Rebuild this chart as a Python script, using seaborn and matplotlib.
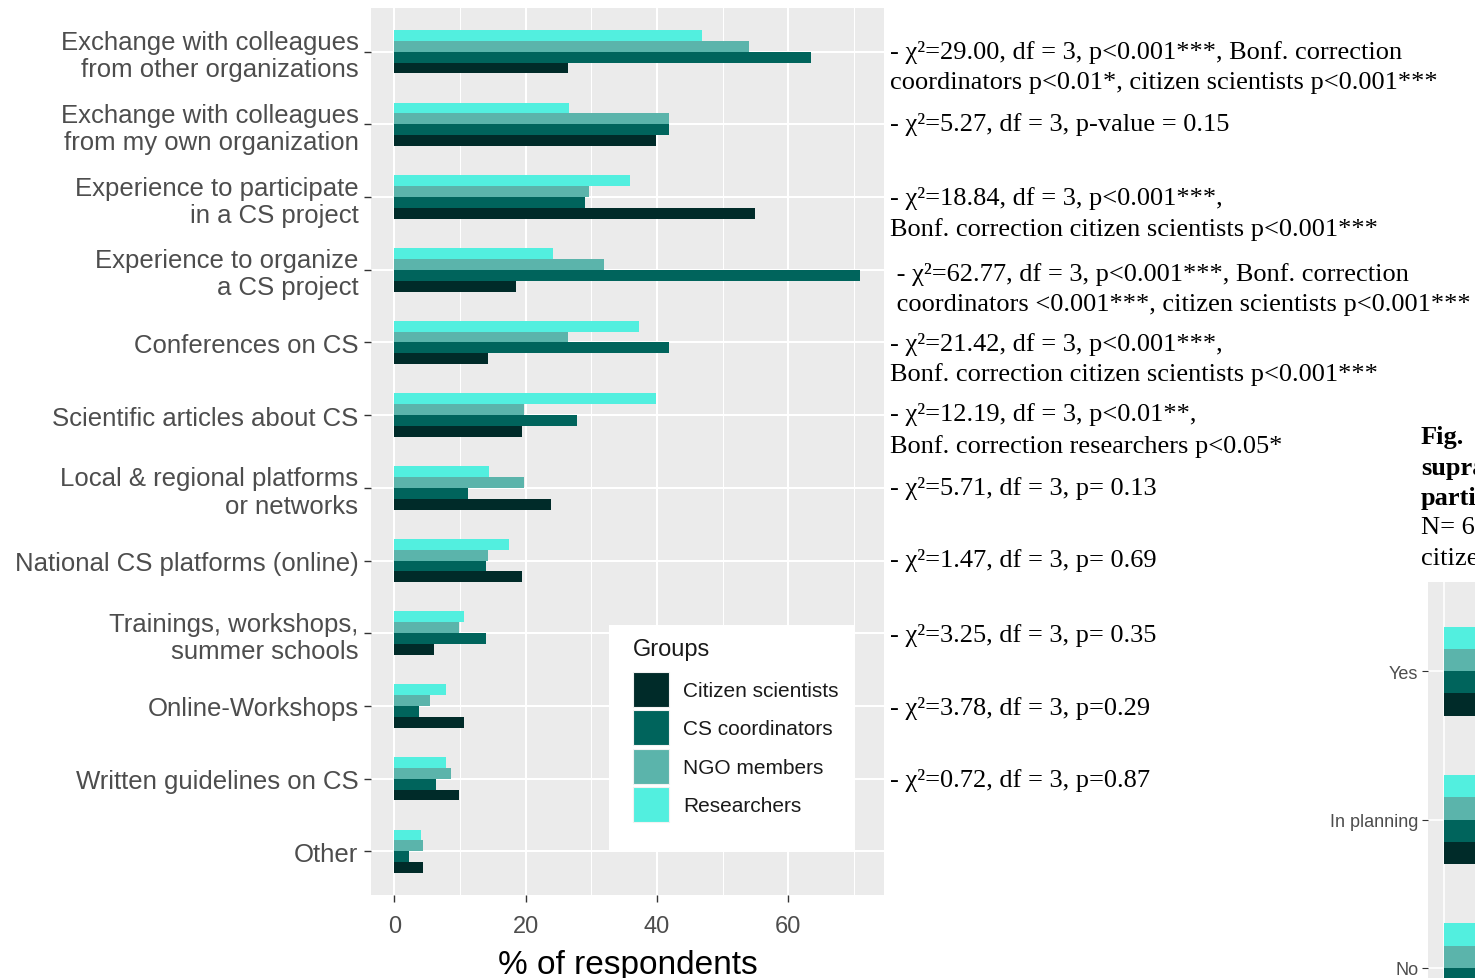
import matplotlib
matplotlib.use("Agg")
import matplotlib.pyplot as plt
import seaborn as sns
import pandas as pd
from matplotlib.patches import Patch, Rectangle
from matplotlib.ticker import FixedLocator

# ---------------- data ----------------
categories = [
    "Exchange with colleagues\nfrom other organizations",
    "Exchange with colleagues\nfrom my own organization",
    "Experience to participate\nin a CS project",
    "Experience to organize\na CS project",
    "Conferences on CS",
    "Scientific articles about CS",
    "Local & regional platforms\nor networks",
    "National CS platforms (online)",
    "Trainings, workshops,\nsummer schools",
    "Online-Workshops",
    "Written guidelines on CS",
    "Other",
]
groups = ["Citizen scientists", "CS coordinators", "NGO members", "Researchers"]
citizen = [26.4, 39.9, 55.0, 18.5, 14.2, 19.5, 23.8, 19.5, 6.1, 10.6, 9.8, 4.4]
coordinators = [63.5, 41.8, 29.1, 70.9, 41.8, 27.8, 11.3, 14.0, 14.0, 3.7, 6.3, 2.3]
ngo = [54.0, 41.8, 29.6, 32.0, 26.4, 19.8, 19.8, 14.2, 9.8, 5.5, 8.7, 4.4]
researchers = [46.8, 26.6, 35.9, 24.1, 37.3, 39.9, 14.5, 17.4, 10.6, 7.9, 7.9, 4.0]
x_ticks = [0, 20, 40, 60]
legend_title = "Groups"

annotations = [
    ["- χ²=29.00, df = 3, p<0.001***, Bonf. correction",
     "coordinators p<0.01*, citizen scientists p<0.001***"],
    ["- χ²=5.27, df = 3, p-value = 0.15"],
    ["- χ²=18.84, df = 3, p<0.001***,",
     "Bonf. correction citizen scientists p<0.001***"],
    [" - χ²=62.77, df = 3, p<0.001***, Bonf. correction",
     " coordinators <0.001***, citizen scientists p<0.001***"],
    ["- χ²=21.42, df = 3, p<0.001***,",
     "Bonf. correction citizen scientists p<0.001***"],
    ["- χ²=12.19, df = 3, p<0.01**,",
     "Bonf. correction researchers p<0.05*"],
    ["- χ²=5.71, df = 3, p= 0.13"],
    ["- χ²=1.47, df = 3, p= 0.69"],
    ["- χ²=3.25, df = 3, p= 0.35"],
    ["- χ²=3.78, df = 3, p=0.29"],
    ["- χ²=0.72, df = 3, p=0.87"],
]
annot_y_px = [[51, 81], [123], [196, 228], [273, 303], [343, 373], [413, 445],
              [487], [558], [634], [706], [779]]

caption_lines = [("Fig.", "bold"), ("supra", "bold"), ("parti", "bold"),
                 ("N= 6", "normal"), ("citize", "normal")]
caption_y_px = [437, 468, 498, 527, 558]

# neighbouring (cropped) chart: only the first few pixels of each bar are visible
cat2 = ["Yes", "In planning", "No"]
cit2 = [40.0, 30.0, 35.0]
coord2 = [45.0, 35.0, 30.0]
ngo2 = [50.0, 40.0, 30.0]
res2 = [55.0, 45.0, 35.0]

palette = {"Citizen scientists": "#002B29", "CS coordinators": "#00645C",
           "NGO members": "#5BB4AB", "Researchers": "#52EFDF"}
draw_order = ["Researchers", "NGO members", "CS coordinators", "Citizen scientists"]

df = pd.DataFrame({
    "category": categories * 4,
    "group": sum([[g] * len(categories) for g in groups], []),
    "value": citizen + coordinators + ngo + researchers,
})
df2 = pd.DataFrame({
    "category": cat2 * 4,
    "group": sum([[g] * len(cat2) for g in groups], []),
    "value": cit2 + coord2 + ngo2 + res2,
})

plt.rcParams["font.family"] = ["Liberation Sans", "DejaVu Sans"]

W, H = 1475, 979
fig = plt.figure(figsize=(W / 100, H / 100), dpi=100)

def fx(px):
    return px / W

def fy(py):
    return 1 - py / H

ax = fig.add_axes([fx(371), fy(896), fx(884 - 371), (896 - 9) / H])
sns.barplot(data=df, y="category", x="value", hue="group", order=categories,
            hue_order=draw_order, palette=palette, width=0.6, orient="h",
            linewidth=0, saturation=1, ax=ax, legend=False, errorbar=None)

ax.set_facecolor("#EBEBEB")
for s in ax.spines.values():
    s.set_visible(False)
ax.set_xlim(-3.55, 74.6)
ax.set_ylim(len(categories) - 0.4, -0.6)
ax.set_xticks(x_ticks)
ax.set_xticklabels([str(t) for t in x_ticks])
ax.xaxis.set_minor_locator(FixedLocator([10, 30, 50, 70]))
ax.set_yticks(range(len(categories)))
ax.set_yticklabels(categories)
ax.set_axisbelow(True)
ax.grid(which="major", color="white", linewidth=1.5)
ax.grid(which="minor", axis="x", color="white", linewidth=0.75)
ax.tick_params(axis="both", which="major", color="#333333", length=5, width=1.0,
               labelcolor="#4D4D4D")
ax.tick_params(axis="y", labelsize=18.5, pad=4)
ax.tick_params(axis="x", labelsize=17, pad=9.5)
ax.tick_params(which="minor", length=0)
for t in ax.get_yticklabels():
    t.set_linespacing(1.17)
ax.set_ylabel("")
ax.set_xlabel("% of respondents", fontsize=24, color="black", labelpad=8.5)

# legend box (white panel), title and legend contents
ax.add_patch(Rectangle((fx(609), fy(853)), fx(855 - 609), (853 - 626) / H,
                       transform=fig.transFigure, facecolor="white",
                       edgecolor="none", zorder=4, clip_on=False))
ax.text(fx(633), fy(650), legend_title, transform=fig.transFigure, fontsize=17,
        color="#1A1A1A", ha="left", va="center", zorder=6)
handles = [Patch(facecolor=palette[g], edgecolor="#F2F2F2", linewidth=0.8) for g in groups]
leg = ax.legend(handles, groups, loc="upper left",
                bbox_to_anchor=(fx(633), fy(673)), bbox_transform=fig.transFigure,
                borderaxespad=0, borderpad=0, frameon=False,
                fontsize=15, handlelength=1.72, handleheight=2.2, labelspacing=0.17,
                handletextpad=0.7)
leg.set_zorder(5)
for t in leg.get_texts():
    t.set_color("#1A1A1A")

for lines, ys in zip(annotations, annot_y_px):
    for line, y in zip(lines, ys):
        fig.text(fx(890), fy(y + 2), line, family=["Liberation Serif", "DejaVu Serif"],
                 fontsize=19, va="center", ha="left", color="black")

for (line, weight), y in zip(caption_lines, caption_y_px):
    fig.text(fx(1421), fy(y + 1), line, family=["Liberation Serif", "DejaVu Serif"],
             fontsize=19, va="center", ha="left", color="black", fontweight=weight)

# cropped neighbouring panel
ax2 = fig.add_axes([fx(1428), fy(1058), 352 / W, (1058 - 583) / H])
sns.barplot(data=df2, y="category", x="value", hue="group", order=cat2,
            hue_order=draw_order, palette=palette, width=0.6, orient="h",
            linewidth=0, saturation=1, ax=ax2, legend=False, errorbar=None)
ax2.set_facecolor("#EBEBEB")
for s in ax2.spines.values():
    s.set_visible(False)
ax2.set_xlim(-3.0, 63.0)
ax2.set_ylim(2.6, -0.6)
ax2.set_xticks([0])
ax2.set_xticklabels([])
ax2.set_axisbelow(True)
ax2.grid(which="major", color="white", linewidth=1.2)
ax2.tick_params(axis="y", color="#333333", length=4, labelcolor="#4D4D4D",
                labelsize=13, pad=3)
ax2.tick_params(axis="x", length=0)
ax2.set_xlabel("")
ax2.set_ylabel("")

fig.savefig("out.png", dpi=100)
